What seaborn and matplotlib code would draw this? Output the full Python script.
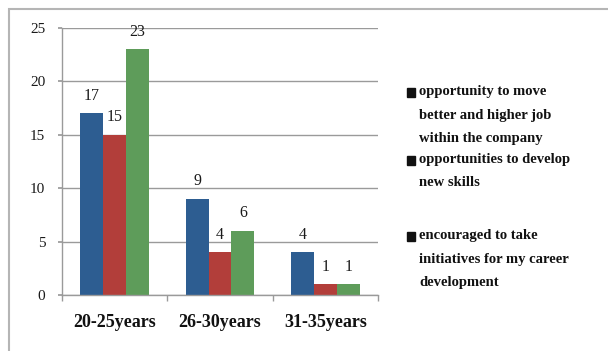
import matplotlib
matplotlib.use("Agg")
import matplotlib.pyplot as plt
import seaborn as sns
import pandas as pd
from matplotlib.patches import Rectangle

categories = ["20-25years", "26-30years", "31-35years"]
series_names = [
    "opportunity to move\nbetter and higher job\nwithin the company",
    "opportunities to develop\nnew skills",
    "encouraged to take\ninitiatives for my career\ndevelopment",
]
move_job = [17, 9, 4]
develop_skills = [15, 4, 1]
take_initiatives = [23, 6, 1]
y_ticks = [0, 5, 10, 15, 20, 25]
colors = ["#2d5d91", "#b23e3a", "#5e9c5a"]

rows = []
for name, vals in zip(series_names, [move_job, develop_skills, take_initiatives]):
    for c, v in zip(categories, vals):
        rows.append({"age": c, "series": name, "value": v})
df = pd.DataFrame(rows)

sns.set_theme(style="white")
plt.rcParams["font.family"] = ["Liberation Serif", "DejaVu Serif"]

fig = plt.figure(figsize=(6.08, 3.51), dpi=100)
ax = fig.add_axes([62 / 608, 1 - 295 / 351, 316 / 608, (295 - 28) / 351])

sns.barplot(data=df, x="age", y="value", hue="series", palette=colors,
            width=0.65, saturation=1, ax=ax, legend=False, linewidth=0)

for cont in ax.containers:
    ax.bar_label(cont, padding=7, fontsize=11.5, color="#1a1a1a")

ax.set_xlim(-0.5, 2.5)
ax.set_ylim(0, 25)
ax.set_yticks(y_ticks)
ax.set_yticklabels([str(t) for t in y_ticks], fontsize=11, color="#1a1a1a")
ax.yaxis.grid(True, color="#9a9a9a", linewidth=1)
ax.set_axisbelow(True)
ax.set_xlabel("")
ax.set_ylabel("")
for lab in ax.get_xticklabels():
    lab.set_fontweight("bold")
    lab.set_fontsize(13)
    lab.set_color("#111111")
ax.tick_params(axis="x", length=0, pad=13.5)
ax.set_xticks([-0.5, 0.5, 1.5, 2.5], minor=True)
ax.tick_params(axis="x", which="minor", length=4, color="#9a9a9a", direction="out", bottom=True)
ax.tick_params(axis="y", length=3, color="#9a9a9a", direction="out", left=True, pad=9)
for s in ["top", "right"]:
    ax.spines[s].set_visible(False)
for s in ["left", "bottom"]:
    ax.spines[s].set_color("#9a9a9a")
    ax.spines[s].set_linewidth(1)

# legend (Excel style: marker beside first line)
tops = [85, 153, 229]
for name, top in zip(series_names, tops):
    fig.add_artist(Rectangle((407 / 608, 1 - (top + 12) / 351), 8 / 608, 9 / 351,
                             transform=fig.transFigure, color="#111111"))
    fig.text(419 / 608, 1 - top / 351, name, ha="left", va="top", fontsize=10.5,
             fontweight="bold", color="#111111", linespacing=2.05)

# outer chart border
fig.add_artist(Rectangle((9 / 608, -0.1), 1.2, 1 - 9 / 351 + 0.1, transform=fig.transFigure,
                         fill=False, edgecolor="#b5b5b5", linewidth=1.5))

fig.savefig("out.png", dpi=100)
